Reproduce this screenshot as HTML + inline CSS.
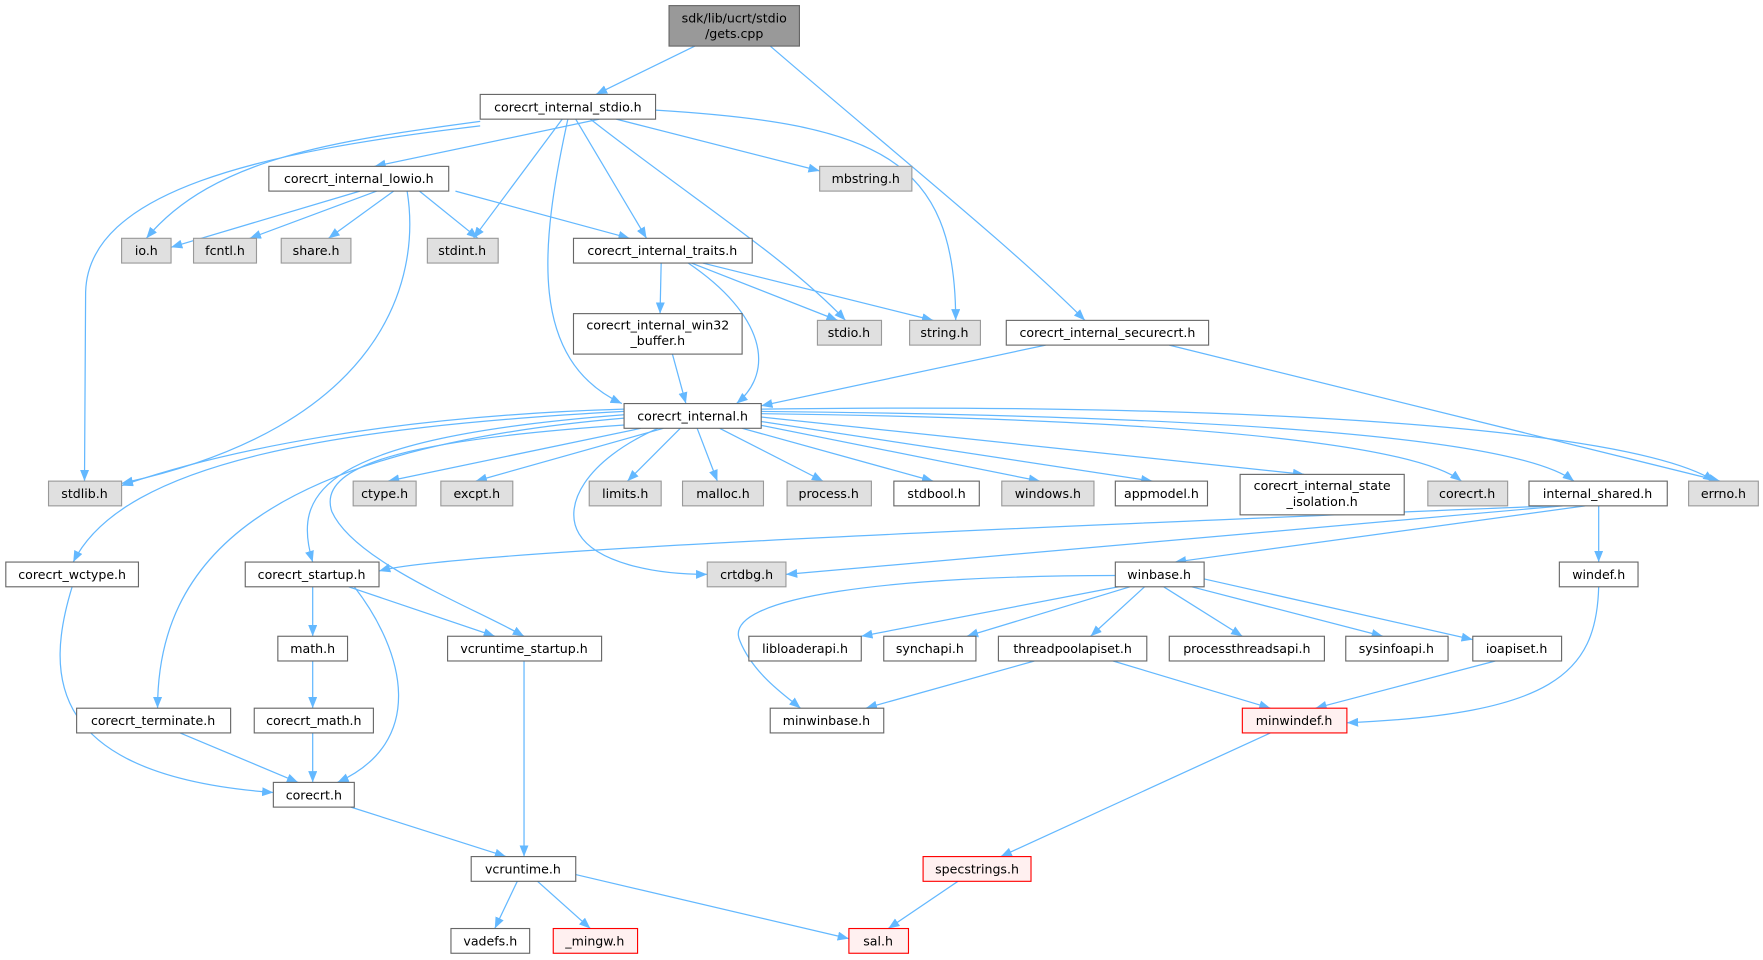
<!DOCTYPE html>
<html><head><meta charset="utf-8"><style>
html,body{margin:0;padding:0;background:#fff;width:1763px;height:960px;overflow:hidden}
svg{display:block}
text{font-family:"DejaVu Sans","Liberation Sans",sans-serif;font-size:11.2px;fill:#000;text-anchor:middle}
.e{fill:none;stroke:#63b8ff;stroke-width:1.1}
.w{fill:#fff;stroke:#666}
.g{fill:#e0e0e0;stroke:#999}
.r{fill:#fff0f0;stroke:#ff0000}
.t{fill:#999;stroke:#666}
</style></head><body>
<svg width="1763" height="960" viewBox="0 0 1568 854" xmlns="http://www.w3.org/2000/svg">
<defs><marker id="a" viewBox="0 0 10 8" refX="10" refY="4" markerWidth="10" markerHeight="8" markerUnits="userSpaceOnUse" orient="auto"><path d="M0,0 L10,4 L0,8 z" fill="#63b8ff"/></marker></defs>
<g marker-end="url(#a)">
<path class="e" d="M618,41 L530,84"/>
<path class="e" d="M685,41 C800,140 900,220 965,285"/>
<path class="e" d="M533,106 L333,148"/>
<path class="e" d="M427,108 C300,125 190,140 130,212"/>
<path class="e" d="M427,112 C230,135 78,170 76,260 L75,428"/>
<path class="e" d="M500,106 L421,212"/>
<path class="e" d="M505,106 C480,220 470,320 553,359"/>
<path class="e" d="M512,106 L575,212"/>
<path class="e" d="M525,106 C620,180 700,230 752,285"/>
<path class="e" d="M548,106 L729,152"/>
<path class="e" d="M583,98 C780,110 850,140 850,285"/>
<path class="e" d="M320,170 L152,220"/>
<path class="e" d="M335,170 L222,212"/>
<path class="e" d="M350,170 L292,212"/>
<path class="e" d="M373,170 L425,212"/>
<path class="e" d="M405,170 L560,212"/>
<path class="e" d="M362,170 C375,250 340,380 108,430"/>
<path class="e" d="M588,234 L587,279"/>
<path class="e" d="M615,234 L745,285"/>
<path class="e" d="M625,234 L830,285"/>
<path class="e" d="M612,234 C680,280 690,330 655,359"/>
<path class="e" d="M598,315 L610,359"/>
<path class="e" d="M930,307 L677,361"/>
<path class="e" d="M1040,307 L1530,428"/>
<path class="e" d="M555,364 C350,370 200,400 108,432"/>
<path class="e" d="M555,366 C300,380 110,410 65,500"/>
<path class="e" d="M555,369 C280,390 260,440 278,500"/>
<path class="e" d="M555,372 C230,400 140,500 140,630"/>
<path class="e" d="M557,378 C380,390 280,410 295,455 C315,500 420,540 466,566"/>
<path class="e" d="M570,381 L345,428"/>
<path class="e" d="M590,381 L423,428"/>
<path class="e" d="M605,381 L558,428"/>
<path class="e" d="M620,381 L638,428"/>
<path class="e" d="M640,381 L732,428"/>
<path class="e" d="M660,381 L830,428"/>
<path class="e" d="M675,378 L925,428"/>
<path class="e" d="M677,375 L1025,428"/>
<path class="e" d="M677,371 L1160,422"/>
<path class="e" d="M677,368 C1000,372 1250,390 1300,428"/>
<path class="e" d="M677,366 C1100,370 1350,390 1400,428"/>
<path class="e" d="M677,364 C1100,358 1450,380 1525,428"/>
<path class="e" d="M585,381 C520,410 500,450 515,475 C530,500 580,511 629,511"/>
<path class="e" d="M1380,450 C900,470 400,490 337,508"/>
<path class="e" d="M1390,450 L699,511"/>
<path class="e" d="M1410,450 L1045,500"/>
<path class="e" d="M1422,450 L1422,500"/>
<path class="e" d="M278,522 L278,566"/>
<path class="e" d="M310,522 L440,566"/>
<path class="e" d="M315,522 C360,580 380,660 300,696"/>
<path class="e" d="M64,522 C40,600 40,690 243,705"/>
<path class="e" d="M160,652 L265,696"/>
<path class="e" d="M278,588 L278,630"/>
<path class="e" d="M278,652 L278,696"/>
<path class="e" d="M312,718 L450,762"/>
<path class="e" d="M466,588 L466,762"/>
<path class="e" d="M992,512 C800,512 640,530 658,570 C670,600 700,620 712,630"/>
<path class="e" d="M995,522 L766,566"/>
<path class="e" d="M1005,522 L860,566"/>
<path class="e" d="M1018,522 L970,566"/>
<path class="e" d="M1035,522 L1105,566"/>
<path class="e" d="M1060,522 L1230,566"/>
<path class="e" d="M1071,515 L1310,569"/>
<path class="e" d="M920,588 L770,630"/>
<path class="e" d="M990,588 L1130,630"/>
<path class="e" d="M1330,588 L1170,630"/>
<path class="e" d="M1422,522 C1420,600 1380,635 1198,643"/>
<path class="e" d="M1130,652 L890,762"/>
<path class="e" d="M852,784 L790,826"/>
<path class="e" d="M460,784 L440,826"/>
<path class="e" d="M478,784 L525,826"/>
<path class="e" d="M512,778 L755,835"/>
</g>
<g>
<rect class="t" x="595" y="5" width="116" height="36"/><text x="653" y="20">sdk/lib/ucrt/stdio</text><text x="653" y="34">/gets.cpp</text>
<rect class="w" x="427" y="84" width="156" height="22"/><text x="505" y="99">corecrt_internal_stdio.h</text>
<rect class="w" x="239" y="148" width="160" height="22"/><text x="319" y="163">corecrt_internal_lowio.h</text>
<rect class="g" x="108" y="212" width="44" height="22"/><text x="130" y="227">io.h</text>
<rect class="g" x="172" y="212" width="56" height="22"/><text x="200" y="227">fcntl.h</text>
<rect class="g" x="250" y="212" width="62" height="22"/><text x="281" y="227">share.h</text>
<rect class="g" x="380" y="212" width="63" height="22"/><text x="411" y="227">stdint.h</text>
<rect class="w" x="510" y="212" width="159" height="22"/><text x="589" y="227">corecrt_internal_traits.h</text>
<rect class="g" x="729" y="148" width="82" height="22"/><text x="770" y="163">mbstring.h</text>
<rect class="w" x="510" y="279" width="150" height="36"/><text x="585" y="293">corecrt_internal_win32</text><text x="585" y="307">_buffer.h</text>
<rect class="g" x="727" y="285" width="57" height="22"/><text x="755" y="300">stdio.h</text>
<rect class="g" x="809" y="285" width="63" height="22"/><text x="840" y="300">string.h</text>
<rect class="w" x="895" y="285" width="180" height="22"/><text x="985" y="300">corecrt_internal_securecrt.h</text>
<rect class="w" x="555" y="359" width="122" height="22"/><text x="616" y="374">corecrt_internal.h</text>
<rect class="g" x="43" y="428" width="65" height="22"/><text x="75" y="443">stdlib.h</text>
<rect class="g" x="314" y="428" width="56" height="22"/><text x="342" y="443">ctype.h</text>
<rect class="g" x="392" y="428" width="64" height="22"/><text x="424" y="443">excpt.h</text>
<rect class="g" x="524" y="428" width="64" height="22"/><text x="556" y="443">limits.h</text>
<rect class="g" x="607" y="428" width="72" height="22"/><text x="643" y="443">malloc.h</text>
<rect class="g" x="700" y="428" width="75" height="22"/><text x="737" y="443">process.h</text>
<rect class="w" x="795" y="428" width="76" height="22"/><text x="833" y="443">stdbool.h</text>
<rect class="g" x="891" y="428" width="82" height="22"/><text x="932" y="443">windows.h</text>
<rect class="w" x="992" y="428" width="82" height="22"/><text x="1033" y="443">appmodel.h</text>
<rect class="w" x="1103" y="422" width="146" height="36"/><text x="1176" y="436">corecrt_internal_state</text><text x="1176" y="450">_isolation.h</text>
<rect class="g" x="1270" y="428" width="71" height="22"/><text x="1305" y="443">corecrt.h</text>
<rect class="w" x="1360" y="428" width="123" height="22"/><text x="1421" y="443">internal_shared.h</text>
<rect class="g" x="1502" y="428" width="62" height="22"/><text x="1533" y="443">errno.h</text>
<rect class="w" x="5" y="500" width="118" height="22"/><text x="64" y="515">corecrt_wctype.h</text>
<rect class="w" x="218" y="500" width="119" height="22"/><text x="277" y="515">corecrt_startup.h</text>
<rect class="g" x="629" y="500" width="70" height="22"/><text x="664" y="515">crtdbg.h</text>
<rect class="w" x="992" y="500" width="79" height="22"/><text x="1031" y="515">winbase.h</text>
<rect class="w" x="1387" y="500" width="70" height="22"/><text x="1422" y="515">windef.h</text>
<rect class="w" x="247" y="566" width="62" height="22"/><text x="278" y="581">math.h</text>
<rect class="w" x="398" y="566" width="137" height="22"/><text x="466" y="581">vcruntime_startup.h</text>
<rect class="w" x="666" y="566" width="100" height="22"/><text x="716" y="581">libloaderapi.h</text>
<rect class="w" x="786" y="566" width="82" height="22"/><text x="827" y="581">synchapi.h</text>
<rect class="w" x="888" y="566" width="132" height="22"/><text x="954" y="581">threadpoolapiset.h</text>
<rect class="w" x="1040" y="566" width="138" height="22"/><text x="1109" y="581">processthreadsapi.h</text>
<rect class="w" x="1197" y="566" width="91" height="22"/><text x="1242" y="581">sysinfoapi.h</text>
<rect class="w" x="1310" y="566" width="79" height="22"/><text x="1349" y="581">ioapiset.h</text>
<rect class="w" x="68" y="630" width="137" height="22"/><text x="136" y="645">corecrt_terminate.h</text>
<rect class="w" x="226" y="630" width="106" height="22"/><text x="279" y="645">corecrt_math.h</text>
<rect class="w" x="685" y="630" width="101" height="22"/><text x="735" y="645">minwinbase.h</text>
<rect class="r" x="1105" y="630" width="93" height="22"/><text x="1151" y="645">minwindef.h</text>
<rect class="w" x="243" y="696" width="72" height="22"/><text x="279" y="711">corecrt.h</text>
<rect class="w" x="419" y="762" width="93" height="22"/><text x="465" y="777">vcruntime.h</text>
<rect class="r" x="821" y="762" width="96" height="22"/><text x="869" y="777">specstrings.h</text>
<rect class="w" x="401" y="826" width="70" height="22"/><text x="436" y="841">vadefs.h</text>
<rect class="r" x="492" y="826" width="75" height="22"/><text x="529" y="841">_mingw.h</text>
<rect class="r" x="755" y="826" width="53" height="22"/><text x="781" y="841">sal.h</text>
</g>
</svg>
</body></html>
